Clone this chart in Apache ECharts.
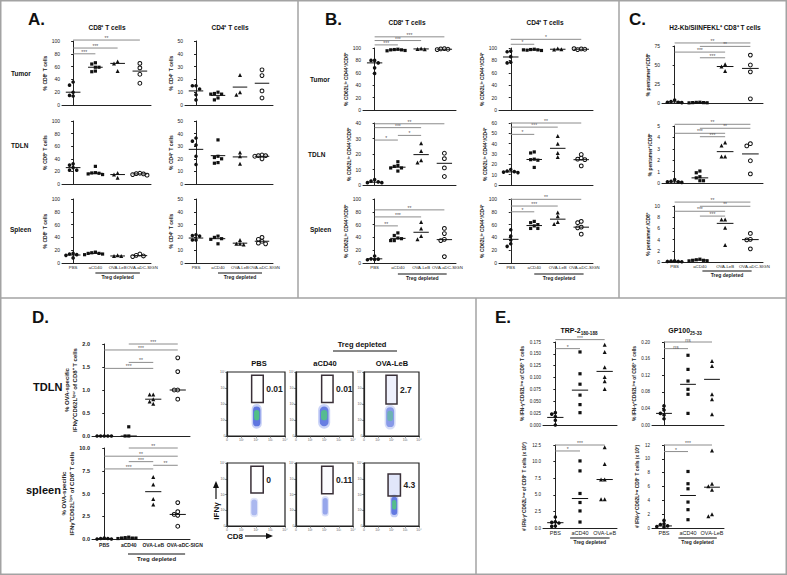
<!DOCTYPE html>
<html><head><meta charset="utf-8">
<script src="https://cdn.jsdelivr.net/npm/echarts@6/dist/echarts.min.js"></script>
<style>html,body{margin:0;padding:0;background:#fff}#c{width:787px;height:575px}</style>
</head><body><div id="c"></div>
<script>
// ================= DATA =================
const GROUPS4 = ['PBS', 'aCD40', 'OVA-LeB', 'OVA-aDC-SIGN'];
const GROUPS3 = ['PBS', 'aCD40', 'OVA-LeB'];
const TREG_LABEL = 'Treg depleted';

// Panel A: % CD8+ / CD4+ T cells
const A_CD8_TUMOR = [[36, 31, 20, 15, 14], [66, 64, 59, 59, 53, 52], [68, 65, 53], [65, 58, 48, 34]];
const A_CD8_TUMOR_MID = [20, 59, 65, 53];
const A_CD8_TUMOR_SIG = [[0, 1, 80, '***'], [0, 2, 89, '***'], [0, 3, 101.5, '**']];
const A_CD8_TDLN = [[32, 30, 26, 22, 22], [28, 18, 17.5, 17, 16, 15], [17.5, 15, 10], [17, 16.5, 16, 15, 14]];
const A_CD8_TDLN_MID = [26, 17, 15, 16];
const A_CD8_SPLEEN = [[15, 14, 13, 12, 8], [17, 16, 15, 15, 14, 13], [12, 11, 11], [14, 12, 11, 10]];
const A_CD8_SPLEEN_MID = [12.5, 15, 11, 11.5];
const A_CD4_TUMOR = [[15, 15, 12.5, 8, 4], [10, 9, 8.5, 8.5, 5.5, 4], [23.5, 10, 8], [27.5, 23, 11, 5.5]];
const A_CD4_TUMOR_MID = [11, 7.5, 14, 17];
const A_CD4_TDLN = [[36.5, 34, 31, 22, 15.5], [35, 22, 21, 20, 17, 16.5], [25, 22, 16], [23, 22.5, 22.5, 22, 20]];
const A_CD4_TDLN_MID = [27.5, 22.5, 21.5, 22];
const A_CD4_SPLEEN = [[22, 21.5, 21, 18, 18], [21, 20, 19, 18.5, 15], [18, 15, 15, 14.5], [20, 18.5, 17, 15.5, 15]];
const A_CD4_SPLEEN_MID = [19.5, 19, 15.5, 17];

// Panel B: % CD62L lo CD44+
const B_CD8_TUMOR = [[80, 80, 76, 68, 59], [98, 97.5, 97, 97, 96, 95.5], [99, 98.5, 98], [99, 98.5, 98, 97.5]];
const B_CD8_TUMOR_MID = [76, 97, 98.5, 98];
const B_CD8_TUMOR_SIG = [[0, 1, 105, '***'], [0, 2, 112, '***'], [0, 3, 118, '***']];
const B_CD8_TDLN = [[3.5, 2.5, 2, 1.5, 1.5], [15, 12.5, 12, 11, 11, 9], [27, 22, 16, 14.5], [20.5, 17, 11, 5.5]];
const B_CD8_TDLN_MID = [1.8, 11.5, 19.6, 14];
const B_CD8_TDLN_SIG = [[0, 1, 29, '*'], [1, 2, 32, '*'], [0, 2, 37, '***'], [0, 3, 39.5, '**']];
const B_CD8_SPLEEN = [[11, 6.5, 6, 5.5, 5], [47, 43, 39, 38, 35, 35], [64, 54, 42, 37], [54, 46, 37, 35, 10]];
const B_CD8_SPLEEN_MID = [6.5, 38.5, 48, 36.5];
const B_CD8_SPLEEN_SIG = [[0, 1, 58, '**'], [0, 2, 72, '***'], [0, 3, 83, '**']];
const B_CD4_TUMOR = [[95, 94, 86, 77, 76], [98, 97.5, 97, 96.5, 96, 97], [99, 97.5, 98], [98.5, 97.5, 98, 99]];
const B_CD4_TUMOR_MID = [85.5, 97, 98, 98];
const B_CD4_TUMOR_SIG = [[0, 1, 106, '*'], [0, 3, 114, '*']];
const B_CD4_TDLN = [[15, 13.5, 13, 12.5, 12], [32, 31, 25, 24.5, 24, 17], [47.5, 40, 31, 27], [29.5, 26, 25, 24.5, 18.5]];
const B_CD4_TDLN_MID = [12.7, 24.7, 35.5, 24.5];
const B_CD4_TDLN_SIG = [[0, 1, 49, '*'], [0, 2, 56, '***'], [0, 3, 60, '**']];
const B_CD4_SPLEEN = [[52, 42, 36, 30, 26], [65, 63, 60, 58, 54, 54], [79, 73, 64, 61], [65, 63, 56, 55, 45]];
const B_CD4_SPLEEN_MID = [37, 58.5, 68.5, 56];
const B_CD4_SPLEEN_SIG = [[0, 1, 80, '*'], [0, 2, 89, '***'], [0, 3, 99.5, '**']];

// Panel C: % pentamer+ / CD8+
const C_TUMOR = [[4, 2, 1, 1, 0.5], [1, 0.8, 0.5, 0.5, 0.3, 0.2], [51, 48, 42], [63, 50, 41, 5.5]];
const C_TUMOR_MID = [1.5, 0.5, 48, 45.5];
const C_TUMOR_SIG = [[0, 3, 79, '**'], [1, 3, 74.5, '**'], [0, 2, 67, '***'], [1, 2, 59.5, '***']];
const C_TDLN = [[0.3, 0.15, 0.1, 0.1, 0.05], [1.05, 0.9, 0.55, 0.45, 0.2, 0.2], [3.55, 3.3, 2.32, 2.32], [3.45, 3.25, 1.95, 0.8]];
const C_TDLN_MID = [0.1, 0.45, 2.75, 2.55];
const C_TDLN_SIG = [[0, 3, 5.15, '**'], [1, 3, 4.8, '**'], [0, 2, 4.36, '***'], [1, 2, 4.06, '***']];
const C_SPLEEN = [[0.2, 0.15, 0.1, 0.1, 0.05], [0.5, 0.4, 0.3, 0.3, 0.2, 0.2], [7.6, 7.6, 6.1, 3.05], [5.1, 4.05, 3.95, 2.35]];
const C_SPLEEN_MID = [0.1, 0.35, 6.9, 4.0];
const C_SPLEEN_SIG = [[0, 3, 10.7, '**'], [1, 3, 9.95, '**'], [0, 2, 9.06, '***'], [1, 2, 8.2, '***']];

// Panel D: % OVA-specific IFNg+ CD62L low of CD8+
const D_TDLN = [[0, 0, 0, 0, 0], [0.2, 0, 0], [0.9, 0.9, 0.8, 0.75, 0.7], [1.7, 1.4, 1.0, 1.0, 0.8]];
const D_TDLN_MID = [0, 0, 0.8, 1.0];
const D_TDLN_SIG = [[1, 3, 2.0, '***'], [0, 3, 1.87, '***'], [1, 2, 1.6, '**'], [0, 2, 1.47, '***']];
const D_SPLEEN = [[0.1, 0.05, 0.05, 0, 0], [0.2, 0.15, 0.1, 0.1, 0.1, 0.05], [6.8, 6.0, 4.4, 3.8], [4.0, 3.0, 2.7, 2.6, 1.4]];
const D_SPLEEN_MID = [0.05, 0.1, 5.2, 2.7];
const D_SPLEEN_SIG = [[1, 3, 10.0, '**'], [0, 3, 9.1, '**'], [1, 2, 8.5, '***'], [2, 3, 8.1, '**'], [0, 2, 7.7, '***']];

// Flow plots (log decades 0..4): gate [x0,x1,y0,y1], cloud [x0,x1,y0,y1,density]
const FLOW_TICKS = ['0', '10¹', '10²', '10³', '10⁴'];
const FLOW_TDLN_PCT = ['0.01', '0.01', '2.7'];
const FLOW_SPLEEN_PCT = ['0', '0.11', '4.3'];
const FLOW_TDLN_GATE = [[1.7, 2.5, 2.1, 3.8], [1.8, 2.6, 2.1, 3.8], [1.6, 2.4, 2.0, 3.8]];
const FLOW_SPLEEN_GATE = [[1.65, 2.5, 2.1, 3.8], [1.8, 2.6, 2.05, 3.8], [1.75, 2.65, 1.9, 3.3]];
const FLOW_TDLN_CLOUD = [[1.7, 2.4, 0.45, 2.0, 1.0], [1.55, 2.4, 0.45, 2.0, 0.9], [1.5, 2.3, 0.4, 1.95, 0.55]];
const FLOW_SPLEEN_CLOUD = [[1.6, 2.15, 0.55, 1.8, 0.2], [1.8, 2.3, 0.6, 1.9, 0.4], [1.9, 2.5, 0.55, 2.0, 0.95]];
const FLOW_TDLN_EVENTS = [0, 0, 0.12];
const FLOW_SPLEEN_EVENTS = [0, 0.03, 0.22];

// Panel E: TRP-2 / GP100
const E_TRP2_PCT = [[0.026, 0.023, 0.018, 0.01, 0.0], [0.154, 0.108, 0.086, 0.063, 0.043, 0.026], [0.169, 0.154, 0.122, 0.101, 0.092, 0.076]];
const E_TRP2_PCT_MID = [0.016, 0.0735, 0.113];
const E_TRP2_PCT_SIG = [[0, 2, 0.18, '***'], [0, 1, 0.161, '*']];
const E_GP100_PCT = [[0.046, 0.036, 0.028, 0.024, 0.015], [0.168, 0.134, 0.106, 0.086, 0.074, 0.028], [0.154, 0.142, 0.074, 0.062, 0.026]];
const E_GP100_PCT_MID = [0.028, 0.098, 0.11];
const E_GP100_PCT_SIG = [[0, 2, 0.2, 'ns'], [0, 1, 0.184, 'ns']];
const E_TRP2_NUM = [[1.65, 0.95, 0.85, 0.75, 0.3, 0.25], [10.1, 8.6, 5.2, 3.84, 2.57, 0.9], [12.16, 9.63, 7.32, 7.32, 4.34, 4.34]];
const E_TRP2_NUM_MID = [0.8, 4.44, 7.3];
const E_TRP2_NUM_SIG = [[0, 2, 12.5, '***'], [0, 1, 11.6, '*']];
const E_GP100_NUM = [[1.1, 0.6, 0.5, 0.3, 0.2, 0.1], [8.17, 6.4, 5.67, 3.75, 2.65, 1.2], [11.2, 6.4, 6.05, 5.53, 1.97, 1.69]];
const E_GP100_NUM_MID = [0.3, 4.7, 5.9];
const E_GP100_NUM_SIG = [[0, 2, 12.0, '***'], [0, 1, 11.05, '*']];

// ================= LAYOUT / RENDER =================
const FONT = "'Liberation Sans', Arial, Helvetica, sans-serif";
const option = { animation: false, backgroundColor: '#fff', grid: [], xAxis: [], yAxis: [], series: [], graphic: [] };

const SYM = [
  { symbol: 'circle', fill: '#111', size: 3.6 },
  { symbol: 'rect', fill: '#111', size: 3.2 },
  { symbol: 'triangle', fill: '#111', size: 4 },
  { symbol: 'circle', fill: '#fff', size: 3.8 }
];

function swarm(vals, yMax, hPx, bandPx) {
  const tol = 3.4 * yMax / hPx, step = 3.6 / bandPx;
  const seq = [0];
  for (let j = 1; j < 7; j++) seq.push(-j * step, j * step);
  const placed = [];
  return vals.map(v => {
    let o = 0;
    for (const c of seq) {
      if (!placed.some(q => Math.abs(q.v - v) < tol && Math.abs(q.o - c) < step * 0.95)) { o = c; break; }
    }
    placed.push({ v, o });
    return o;
  });
}

function midRender(halfW) {
  return function (params, api) {
    const i = api.value(0), m = api.value(1);
    const a = api.coord([i - halfW, m]), b = api.coord([i + halfW, m]);
    return { type: 'line', shape: { x1: a[0], y1: a[1], x2: b[0], y2: b[1] }, style: { stroke: '#111', lineWidth: 1 } };
  };
}
function sigRender(list) {
  return function (params, api) {
    const s = list[params.dataIndex];
    const a = api.coord([s[0], s[2]]), b = api.coord([s[1], s[2]]);
    return { type: 'group', children: [
      { type: 'line', shape: { x1: a[0], y1: a[1], x2: b[0], y2: a[1] }, style: { stroke: '#8c8c8c', lineWidth: 1 } },
      { type: 'text', x: (a[0] + b[0]) / 2, y: a[1] + 0.5, style: { text: s[3], fontSize: 5, fill: '#555', align: 'center', verticalAlign: 'bottom', fontFamily: FONT } }
    ] };
  };
}
function tregRender(dy, font) {
  return function (params, api) {
    const a = api.coord([api.value(0), 0]), b = api.coord([api.value(1), 0]);
    const y = a[1] + dy;
    return { type: 'group', children: [
      { type: 'line', shape: { x1: a[0], y1: y, x2: b[0], y2: y }, style: { stroke: '#111', lineWidth: 1 } },
      { type: 'text', x: (a[0] + b[0]) / 2, y: y + 1.5, style: { text: TREG_LABEL, fontSize: font, fontWeight: 'bold', fill: '#222', align: 'center', verticalAlign: 'top', fontFamily: FONT } }
    ] };
  };
}

function addDotPlot(p) {
  const gi = option.grid.length;
  const w = p.r - p.l, h = p.b - p.t, band = w / p.cats.length;
  const last = p.cats.length - 1;
  const xFont = p.xFont || 4.3, xWeight = p.xBold ? 'bold' : 'normal';
  option.grid.push({ left: p.l, top: p.t, width: w, height: h });
  option.xAxis.push({ gridIndex: gi, type: 'category', data: p.cats, boundaryGap: true,
    axisLine: { show: true, lineStyle: { color: '#222', width: 1 } }, axisTick: { show: false },
    axisLabel: { show: !!p.showX, interval: 0, fontSize: xFont, margin: p.xMargin || 2, color: '#222', fontFamily: FONT, fontWeight: xWeight,
      formatter: (val, idx) => (idx === last && p.lastPad ? '{r|' + val + '}' : val),
      rich: { r: { padding: [0, 0, 0, p.lastPad || 0], fontSize: xFont, fontWeight: xWeight, fontFamily: FONT, color: '#222' } } },
    splitLine: { show: false } });
  const xv = option.xAxis.length;
  option.xAxis.push({ gridIndex: gi, type: 'value', min: -0.5, max: p.cats.length - 0.5, show: false, splitLine: { show: false } });
  const yi = option.yAxis.length;
  option.yAxis.push({ gridIndex: gi, type: 'value', min: 0, max: p.yMax, interval: p.yInt,
    axisLine: { show: true, lineStyle: { color: '#222', width: 1 } },
    axisTick: { show: true, length: 2, lineStyle: { color: '#222' } },
    axisLabel: { fontSize: p.yFont || 5, margin: 2, color: '#222', fontFamily: FONT, fontWeight: p.yBold ? 'bold' : 'normal',
      formatter: v => (p.yDec != null ? (+v).toFixed(p.yDec) : String(+(+v).toFixed(4))) },
    splitLine: { show: false },
    name: p.yName, nameLocation: 'middle', nameRotate: 90, nameGap: p.nameGap,
    nameTextStyle: { fontSize: p.nameFont || 5, fontFamily: FONT, color: '#222', fontWeight: 'bold', lineHeight: p.nameLH || 6 } });
  p.vals.forEach((grp, g) => {
    const offs = swarm(grp, p.yMax, h, band);
    const s = SYM[g];
    option.series.push({ type: 'scatter', xAxisIndex: xv, yAxisIndex: yi, silent: true, z: 3,
      data: grp.map((v, k) => [g + offs[k], v]), symbol: s.symbol, symbolSize: s.size,
      itemStyle: { color: s.fill, borderColor: '#111', borderWidth: s.fill === '#fff' ? 1 : 0, opacity: 1 } });
  });
  option.series.push({ type: 'custom', xAxisIndex: xv, yAxisIndex: yi, silent: true, z: 4,
    data: p.mid.map((m, i) => [i, m]), encode: { x: 0, y: 1 }, renderItem: midRender(0.33) });
  if (p.sig && p.sig.length) {
    option.series.push({ type: 'custom', xAxisIndex: xv, yAxisIndex: yi, silent: true, z: 2, clip: false,
      data: p.sig.map(s => [s[0], s[1], s[2]]), encode: { x: [0, 1], y: 2 }, renderItem: sigRender(p.sig) });
  }
  if (p.treg) {
    option.series.push({ type: 'custom', xAxisIndex: xv, yAxisIndex: yi, silent: true, z: 2, clip: false,
      data: [[p.treg[0], p.treg[1], 0]], encode: { x: [0, 1], y: 2 }, renderItem: tregRender(p.tregDy, p.tregFont || 5) });
  }
}

// ---- Panel A ----
const A_COLS = [[62, 151], [185, 273]], A_ROWS = [[41, 105], [121, 184], [199, 263]];
[[A_CD8_TUMOR, A_CD8_TUMOR_MID, A_CD8_TUMOR_SIG], [A_CD8_TDLN, A_CD8_TDLN_MID, null], [A_CD8_SPLEEN, A_CD8_SPLEEN_MID, null]].forEach((d, r) => {
  addDotPlot({ l: A_COLS[0][0], r: A_COLS[0][1], t: A_ROWS[r][0], b: A_ROWS[r][1], cats: GROUPS4, vals: d[0], mid: d[1], sig: d[2],
    yMax: 100, yInt: 20, yName: '% CD8⁺ T cells', nameGap: 9, showX: r === 2, lastPad: 5, treg: r === 2 ? [1, 3] : null, tregDy: 10 });
});
[[A_CD4_TUMOR, A_CD4_TUMOR_MID], [A_CD4_TDLN, A_CD4_TDLN_MID], [A_CD4_SPLEEN, A_CD4_SPLEEN_MID]].forEach((d, r) => {
  addDotPlot({ l: A_COLS[1][0], r: A_COLS[1][1], t: A_ROWS[r][0], b: A_ROWS[r][1], cats: GROUPS4, vals: d[0], mid: d[1], sig: null,
    yMax: 50, yInt: 10, yName: '% CD4⁺ T cells', nameGap: 8, showX: r === 2, lastPad: 5, treg: r === 2 ? [1, 3] : null, tregDy: 10 });
});

// ---- Panel B ----
const B_COLS = [[363, 456], [499, 593]], B_ROWS = [[48, 110], [123, 185], [199, 263]];
[[B_CD8_TUMOR, B_CD8_TUMOR_MID, B_CD8_TUMOR_SIG, 100, 20], [B_CD8_TDLN, B_CD8_TDLN_MID, B_CD8_TDLN_SIG, 40, 10], [B_CD8_SPLEEN, B_CD8_SPLEEN_MID, B_CD8_SPLEEN_SIG, 100, 20]].forEach((d, r) => {
  addDotPlot({ l: B_COLS[0][0], r: B_COLS[0][1], t: B_ROWS[r][0], b: B_ROWS[r][1], cats: GROUPS4, vals: d[0], mid: d[1], sig: d[2],
    yMax: d[3], yInt: d[4], yName: '% CD62Lˡᵒ CD44⁺/CD8⁺', nameGap: 11, showX: r === 2, lastPad: 6, treg: r === 2 ? [1, 3.1] : null, tregDy: 11 });
});
[[B_CD4_TUMOR, B_CD4_TUMOR_MID, B_CD4_TUMOR_SIG, 100, 20], [B_CD4_TDLN, B_CD4_TDLN_MID, B_CD4_TDLN_SIG, 60, 10], [B_CD4_SPLEEN, B_CD4_SPLEEN_MID, B_CD4_SPLEEN_SIG, 100, 20]].forEach((d, r) => {
  addDotPlot({ l: B_COLS[1][0], r: B_COLS[1][1], t: B_ROWS[r][0], b: B_ROWS[r][1], cats: GROUPS4, vals: d[0], mid: d[1], sig: d[2],
    yMax: d[3], yInt: d[4], yName: '% CD62Lˡᵒ CD44⁺/CD4⁺', nameGap: 9, showX: r === 2, lastPad: 6, treg: r === 2 ? [1, 3.1] : null, tregDy: 11 });
});

// ---- Panel C ----
const C_COL = [662, 763], C_ROWS = [[46, 103], [126, 183], [206, 262]];
[[C_TUMOR, C_TUMOR_MID, C_TUMOR_SIG, 75, 25], [C_TDLN, C_TDLN_MID, C_TDLN_SIG, 5, 1], [C_SPLEEN, C_SPLEEN_MID, C_SPLEEN_SIG, 10, 2]].forEach((d, r) => {
  addDotPlot({ l: C_COL[0], r: C_COL[1], t: C_ROWS[r][0], b: C_ROWS[r][1], cats: GROUPS4, vals: d[0], mid: d[1], sig: d[2],
    yMax: d[3], yInt: d[4], yName: '% pentamer⁺/CD8⁺', nameGap: 6, showX: r === 2, lastPad: 8, treg: r === 2 ? [1.1, 3.05] : null, tregDy: 9 });
});

// ---- Panel D (dot plots) ----
const D_COL = [92, 190], D_ROWS = [[344, 436], [448, 539]];
[[D_TDLN, D_TDLN_MID, D_TDLN_SIG, 2, 0.5], [D_SPLEEN, D_SPLEEN_MID, D_SPLEEN_SIG, 10, 2.5]].forEach((d, r) => {
  addDotPlot({ l: D_COL[0], r: D_COL[1], t: D_ROWS[r][0], b: D_ROWS[r][1], cats: GROUPS4, vals: d[0], mid: d[1], sig: d[2],
    yMax: d[3], yInt: d[4], yDec: 1, yFont: 5.5, yBold: true, xFont: 5, xBold: true, xMargin: 3, lastPad: 14,
    yName: '% OVA-specific\nIFNγ⁺CD62Lˡᵒʷ of CD8⁺ T cells', nameGap: 13, nameFont: 6, nameLH: 7.5,
    showX: r === 1, treg: r === 1 ? [0.97, 3.3] : null, tregDy: 15, tregFont: 6 });
});

// ---- Panel E ----
const E_COLS = [[543, 617], [652, 724]], E_ROWS = [[342, 425], [445, 528]];
const E_SPECS = [
  [0, 0, E_TRP2_PCT, E_TRP2_PCT_MID, E_TRP2_PCT_SIG, 0.175, 0.025, 3, '% IFN-γ⁺CD62Lˡᵒʷ of CD8⁺ T cells', 16],
  [1, 0, E_GP100_PCT, E_GP100_PCT_MID, E_GP100_PCT_SIG, 0.2, 0.04, 2, '% IFN-γ⁺CD62Lˡᵒʷ of CD8⁺ T cells', 12],
  [0, 1, E_TRP2_NUM, E_TRP2_NUM_MID, E_TRP2_NUM_SIG, 12.5, 2.5, 1, '# IFN-γ⁺CD62Lˡᵒʷ of CD8⁺ T cells (x 10³)', 16],
  [1, 1, E_GP100_NUM, E_GP100_NUM_MID, E_GP100_NUM_SIG, 12, 2, 0, '# IFN-γ⁺CD62Lˡᵒʷ CD8⁺ T cells (x 10³)', 12]
];
E_SPECS.forEach(s => {
  addDotPlot({ l: E_COLS[s[0]][0], r: E_COLS[s[0]][1], t: E_ROWS[s[1]][0], b: E_ROWS[s[1]][1], cats: GROUPS3, vals: s[2], mid: s[3], sig: s[4],
    yMax: s[5], yInt: s[6], yDec: s[7], yFont: 4.5, yName: s[8], nameGap: s[9], nameFont: 4.8,
    xFont: 5.5, xMargin: 2, showX: s[1] === 1, treg: s[1] === 1 ? [0.6, 2.2] : null, tregDy: 10, tregFont: 5 });
});

// ---- Panel D flow plots ----
const FLOW_COLS = [[227, 285], [296, 353], [364, 419]], FLOW_ROWS = [[372, 436], [463, 526]];
function flowRender(cloud, gate, pct, events) {
  return function (params, api) {
    const c0 = api.coord([cloud[0], cloud[3]]), c1 = api.coord([cloud[1], cloud[2]]);
    const cx = c0[0], cy = c0[1], cw = c1[0] - c0[0], ch = c1[1] - c0[1], d = cloud[4];
    const kids = [];
    kids.push({ type: 'rect', shape: { x: cx, y: cy, width: cw, height: ch, r: cw / 2 }, style: { fill: 'rgba(130,150,235,' + (0.2 + 0.25 * d) + ')' } });
    kids.push({ type: 'rect', shape: { x: cx + cw * 0.14, y: cy + ch * 0.1, width: cw * 0.72, height: ch * 0.8, r: cw * 0.36 }, style: { fill: 'rgba(50,80,215,' + (0.2 + 0.5 * d) + ')' } });
    if (d > 0.4) {
      kids.push({ type: 'rect', shape: { x: cx + cw * 0.24, y: cy + ch * 0.24, width: cw * 0.52, height: ch * 0.42, r: cw * 0.26 }, style: { fill: 'rgba(80,205,120,' + (d * 0.85) + ')' } });
    }
    const g0 = api.coord([gate[0], gate[3]]), g1 = api.coord([gate[1], gate[2]]);
    kids.push({ type: 'rect', shape: { x: g0[0], y: g0[1], width: g1[0] - g0[0], height: g1[1] - g0[1] },
      style: { fill: events > 0 ? 'rgba(120,140,230,' + events + ')' : 'none', stroke: '#3a3038', lineWidth: 1.5 } });
    kids.push({ type: 'text', x: g1[0] + 3, y: (g0[1] + g1[1]) / 2, style: { text: pct, fontSize: 8.5, fontWeight: 'bold', fill: '#222', align: 'left', verticalAlign: 'middle', fontFamily: FONT } });
    return { type: 'group', children: kids };
  };
}
[[FLOW_TDLN_CLOUD, FLOW_TDLN_GATE, FLOW_TDLN_PCT, FLOW_TDLN_EVENTS], [FLOW_SPLEEN_CLOUD, FLOW_SPLEEN_GATE, FLOW_SPLEEN_PCT, FLOW_SPLEEN_EVENTS]].forEach((row, r) => {
  GROUPS3.forEach((g, c) => {
    const gi = option.grid.length;
    option.grid.push({ left: FLOW_COLS[c][0], top: FLOW_ROWS[r][0], width: FLOW_COLS[c][1] - FLOW_COLS[c][0], height: FLOW_ROWS[r][1] - FLOW_ROWS[r][0], show: true, borderColor: '#222', borderWidth: 1.2, backgroundColor: '#fff' });
    const ax = { gridIndex: gi, type: 'value', min: 0, max: 4, interval: 1, splitLine: { show: false },
      axisLine: { show: true, lineStyle: { color: '#222', width: 1.2 } }, axisTick: { show: true, length: 1.5, lineStyle: { color: '#444' } },
      axisLabel: { fontSize: 3.5, margin: 1.5, color: '#666', fontFamily: FONT, formatter: v => FLOW_TICKS[Math.round(v)] } };
    const xi = option.xAxis.length; option.xAxis.push(Object.assign({}, ax));
    const yi = option.yAxis.length; option.yAxis.push(Object.assign({}, ax));
    option.series.push({ type: 'custom', xAxisIndex: xi, yAxisIndex: yi, silent: true, clip: false,
      data: [[row[1][c][0], row[1][c][2]]], encode: { x: 0, y: 1 }, renderItem: flowRender(row[0][c], row[1][c], row[2][c], row[3][c]) });
  });
});

// ---- Texts & frame ----
function T(x, y, text, size, opts) {
  opts = opts || {};
  const st = { text: text, fontSize: size, fontWeight: opts.normal ? 'normal' : 'bold', fill: opts.fill || '#111', fontFamily: FONT,
    align: opts.align || 'center', verticalAlign: 'middle' };
  if (opts.rich) st.rich = opts.rich;
  return { type: 'text', x: x, y: y, rotation: opts.rot || 0, silent: true, z: 10, style: st };
}
function L(x1, y1, x2, y2, color, w) {
  return { type: 'line', silent: true, z: 9, shape: { x1: x1, y1: y1, x2: x2, y2: y2 }, style: { stroke: color, lineWidth: w } };
}
const SUB_RICH = {
  a: { fontSize: 7, fontWeight: 'bold', fontFamily: FONT, fill: '#111', lineHeight: 9, verticalAlign: 'bottom' },
  s: { fontSize: 4.6, fontWeight: 'bold', fontFamily: FONT, fill: '#111', lineHeight: 9, verticalAlign: 'bottom', padding: [0, 0, -1.5, 0] }
};
option.graphic = [
  { type: 'rect', silent: true, z: 0, shape: { x: 0.75, y: 0.75, width: 785.5, height: 573.5 }, style: { fill: 'none', stroke: '#a3a3a3', lineWidth: 1.5 } },
  L(298, 0, 298, 298, '#a3a3a3', 1.5), L(619, 0, 619, 298, '#a3a3a3', 1.5),
  L(0, 298, 787, 298, '#a3a3a3', 1.5), L(476, 298, 476, 575, '#a3a3a3', 1.5),
  T(28, 19, 'A.', 17, { align: 'left' }), T(325, 19, 'B.', 17, { align: 'left' }), T(629, 19, 'C.', 17, { align: 'left' }),
  T(32, 317, 'D.', 17, { align: 'left' }), T(495, 317, 'E.', 17, { align: 'left' }),
  T(107, 27, 'CD8⁺ T cells', 6.5), T(230, 27, 'CD4⁺ T cells', 6.5),
  T(11, 73, 'Tumor', 6.5, { align: 'left' }), T(11, 145, 'TDLN', 6.5, { align: 'left' }), T(10, 229, 'Spleen', 6.5, { align: 'left' }),
  T(407, 22, 'CD8⁺ T cells', 6.5), T(545, 22, 'CD4⁺ T cells', 6.5),
  T(310, 79, 'Tumor', 6.5, { align: 'left' }), T(308, 154, 'TDLN', 6.5, { align: 'left' }), T(310, 229, 'Spleen', 6.5, { align: 'left' }),
  T(715, 27, 'H2-Kb/SIINFEKL⁺ CD8⁺ T cells', 6.5),
  T(33, 387, 'TDLN', 11, { align: 'left' }), T(26, 490, 'spleen', 11, { align: 'left' }),
  T(362, 344, TREG_LABEL, 7.5), L(333, 351, 397, 351, '#111', 1),
  T(259, 363, GROUPS3[0], 7.5), T(325, 363, GROUPS3[1], 7.5), T(392, 363, GROUPS3[2], 7.5),
  T(216, 511, 'IFNγ', 8, { rot: Math.PI / 2 }), L(216, 499, 216, 487, '#111', 1.2),
  { type: 'polygon', silent: true, z: 9, shape: { points: [[213, 488], [219, 488], [216, 481]] }, style: { fill: '#111' } },
  T(235, 536, 'CD8', 8), L(245, 536, 267, 536, '#111', 1.2),
  { type: 'polygon', silent: true, z: 9, shape: { points: [[266, 533], [266, 539], [273, 536]] }, style: { fill: '#111' } },
  T(579, 329.5, '{a|TRP-2}{s|180-188}', 7, { rich: SUB_RICH }), T(685, 329.5, '{a|GP100}{s|25-33}', 7, { rich: SUB_RICH })
];

const chart = echarts.init(document.getElementById('c'), null, { renderer: 'svg' });
chart.setOption(option);
</script>
</body></html>
